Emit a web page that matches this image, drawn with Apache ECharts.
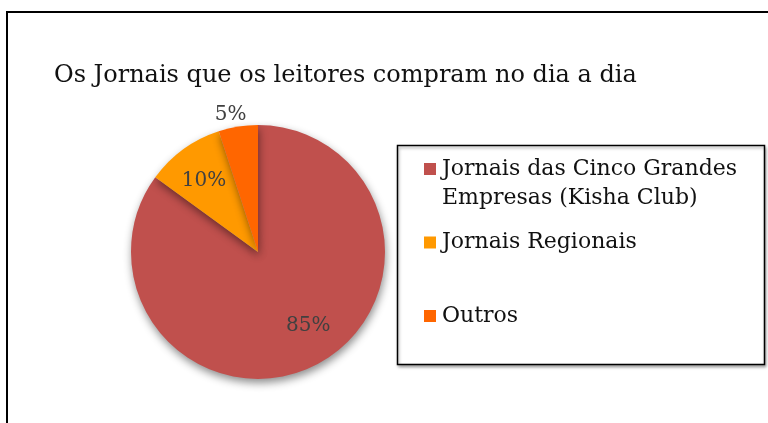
<!DOCTYPE html>
<html>
<head>
<meta charset="utf-8">
<script src="https://cdn.jsdelivr.net/npm/echarts@6/dist/echarts.min.js"></script>
<style>
  html, body { margin: 0; padding: 0; background: #fff; }
  #main { width: 768px; height: 423px; }
</style>
</head>
<body>
<div id="main"></div>
<script>
var chartDom = document.getElementById('main');
var myChart = echarts.init(chartDom);

const titleText = 'Os Jornais que os leitores compram no dia a dia';
const categories = ['Jornais das Cinco Grandes\nEmpresas (Kisha Club)', 'Jornais Regionais', 'Outros'];
const values = [85, 10, 5];
const colors = ['#C0504D', '#FF9900', '#FF6600'];
// label nudges so they sit where the original put them
const labelOffsets = [[20, 15], [-15, -17], [-17, -72]];

const serif = '"DejaVu Serif", "Liberation Serif", serif';

const rich = {
  t: { fontFamily: serif, fontSize: 22, lineHeight: 29, color: '#111' },
  gap: { width: 6, height: 12 },
  pad: { width: 18, height: 12 }
};
colors.forEach((c, i) => {
  rich['sq' + i] = { width: 12, height: 12, backgroundColor: c };
});

var option = {
  animation: false,
  color: colors,
  title: {
    text: titleText,
    left: 49,
    top: 59,
    textStyle: { fontFamily: serif, fontSize: 24, fontWeight: 'normal', color: '#111' }
  },
  graphic: [
    {
      type: 'rect',
      shape: { x: 7, y: 12, width: 820, height: 500 },
      style: { fill: 'none', stroke: '#000', lineWidth: 2 }
    },
    {
      type: 'rect',
      shape: { x: 397.5, y: 145.5, width: 367, height: 219 },
      style: { fill: '#fff', stroke: '#000', lineWidth: 1.5, shadowBlur: 3, shadowOffsetX: 1, shadowOffsetY: 2, shadowColor: 'rgba(0,0,0,0.35)' },
      z: -1
    }
  ],
  legend: {
    orient: 'vertical',
    left: 419,
    top: 158,
    padding: 0,
    itemGap: 22.5,
    itemWidth: 0,
    itemHeight: 0,
    selectedMode: false,
    data: categories,
    formatter: function (name) {
      const i = categories.indexOf(name);
      const lines = name.split('\n');
      let s = lines.map((ln, k) => (k === 0 ? `{sq${i}|}{gap|}` : '{pad|}') + `{t|${ln}}`).join('\n');
      if (i === 1) s += '\n{t| }';
      return s;
    },
    textStyle: { rich: rich }
  },
  series: [
    {
      type: 'pie',
      center: [258, 252],
      radius: 127,
      startAngle: 90,
      clockwise: true,
      itemStyle: {
        borderWidth: 0,
        shadowBlur: 8,
        shadowOffsetY: 4,
        shadowOffsetX: 1,
        shadowColor: 'rgba(0,0,0,0.45)'
      },
      label: {
        show: true,
        position: 'inside',
        formatter: '{c}%',
        fontFamily: serif,
        fontSize: 20,
        color: '#404040'
      },
      labelLine: { show: false },
      emphasis: { disabled: true },
      data: categories.map((name, i) => ({
        name: name,
        value: values[i],
        label: { offset: labelOffsets[i] }
      }))
    }
  ]
};

option && myChart.setOption(option);
</script>
</body>
</html>
